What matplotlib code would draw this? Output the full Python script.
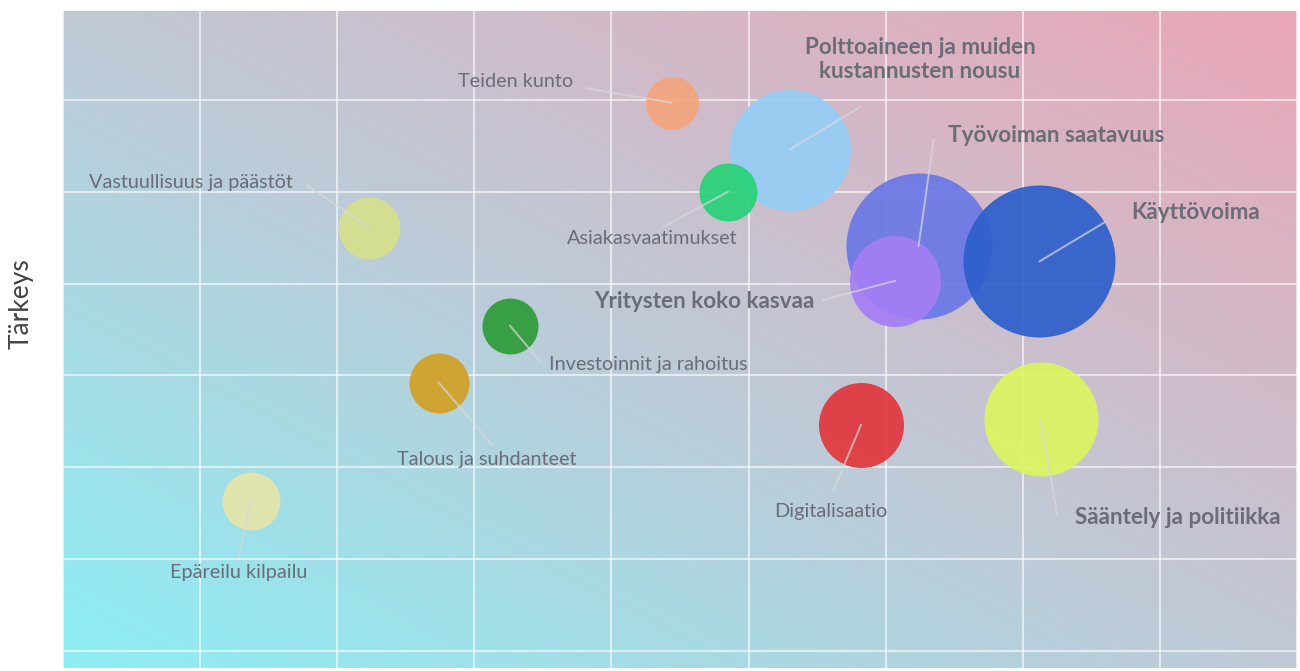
import numpy as np
import matplotlib
matplotlib.use("Agg")
import matplotlib.pyplot as plt

plt.rcParams['font.family'] = ['Lato', 'DejaVu Sans']

# bubble data
labels = ["Teiden kunto", "Polttoaineen ja muiden\nkustannusten nousu", "Asiakasvaatimukset",
          "Vastuullisuus ja päästöt", "Työvoiman saatavuus", "Yritysten koko kasvaa",
          "Käyttövoima", "Investoinnit ja rahoitus", "Talous ja suhdanteet",
          "Digitalisaatio", "Sääntely ja politiikka", "Epäreilu kilpailu"]
x_vals = [4.44, 5.30, 4.85, 2.23, 6.24, 6.07, 7.12, 3.26, 2.74, 5.82, 7.13, 1.37]
y_vals = [5.97, 5.46, 5.00, 4.61, 4.41, 4.03, 4.24, 3.54, 2.92, 2.46, 2.52, 1.63]
sizes = [1456, 7590, 1743, 1993, 11050, 4292, 11977, 1626, 1866, 3745, 6737, 1743]
colors = ['#f5a57d', '#96cdf5', '#28d278', '#d6e08c', '#6978e6', '#a57df5',
          '#2d5fcd', '#2d9b37', '#d2a023', '#e1373c', '#dcf55f', '#e6e6aa']
big = [False, True, False, False, True, True, True, False, False, False, True, False]

# label placement
label_x = [3.30, 6.25, 4.30, 0.93, 7.24, 4.68, 8.26, 4.27, 3.09, 5.60, 8.13, 1.28]
label_y = [6.20, 6.44, 4.49, 5.10, 5.61, 3.80, 4.77, 3.12, 2.08, 1.51, 1.45, 0.85]
leader_x = [3.81, 5.81, 4.39, 1.77, 6.35, 5.54, 7.60, 3.48, 3.13, 5.62, 7.25, 1.28]
leader_y = [6.13, 5.92, 4.63, 5.08, 5.57, 3.82, 4.67, 3.15, 2.24, 1.75, 1.48, 1.02]

fig = plt.figure(figsize=(13, 6.71), dpi=100)
ax = fig.add_axes([0.0485, 0.0045, 0.9492, 0.9791])
ax.set_xlim(0, 9)
ax.set_ylim(-0.19, 6.97)

# diagonal gradient background
c0 = np.array([140, 238, 244]) / 255
c1 = np.array([192, 201, 214]) / 255
c2 = np.array([234, 166, 182]) / 255
u, v = np.meshgrid(np.linspace(0, 1, 300), np.linspace(0, 1, 300))
t = (u + v) / 2
t3 = t[..., None]
img = np.where(t3 < 0.5, c0 + (c1 - c0) * (t3 / 0.5), c1 + (c2 - c1) * ((t3 - 0.5) / 0.5))
ax.imshow(img, extent=[0, 9, -0.19, 6.97], origin='lower', aspect='auto', zorder=0)

ax.set_xticks(range(0, 10))
ax.set_yticks(range(0, 7))
ax.grid(True, color='white', alpha=0.6, linewidth=1.5, zorder=1)
ax.set_axisbelow(False)
ax.tick_params(length=0, labelbottom=False, labelleft=False)
for s in ax.spines.values():
    s.set_visible(False)

for i in range(len(labels)):
    ax.scatter(x_vals[i], y_vals[i], s=sizes[i], color=colors[i], alpha=0.92,
               linewidths=0, zorder=3 + i * 0.01)
    ax.plot([x_vals[i], leader_x[i]], [y_vals[i], leader_y[i]], color='#d8d8dc',
            alpha=0.7, linewidth=1.4, zorder=4, solid_capstyle='round')
    ax.text(label_x[i], label_y[i], labels[i], ha='center', va='center',
            fontsize=16.2 if big[i] else 14.3,
            fontweight='bold' if big[i] else 'normal',
            color='#6a6c78', linespacing=1.2, zorder=5)

fig.text(21 / 1300, 1 - 304 / 671, "Tärkeys", rotation=90, ha='center', va='center',
         fontsize=19, color='#444444')

fig.savefig("out.png", dpi=100)
